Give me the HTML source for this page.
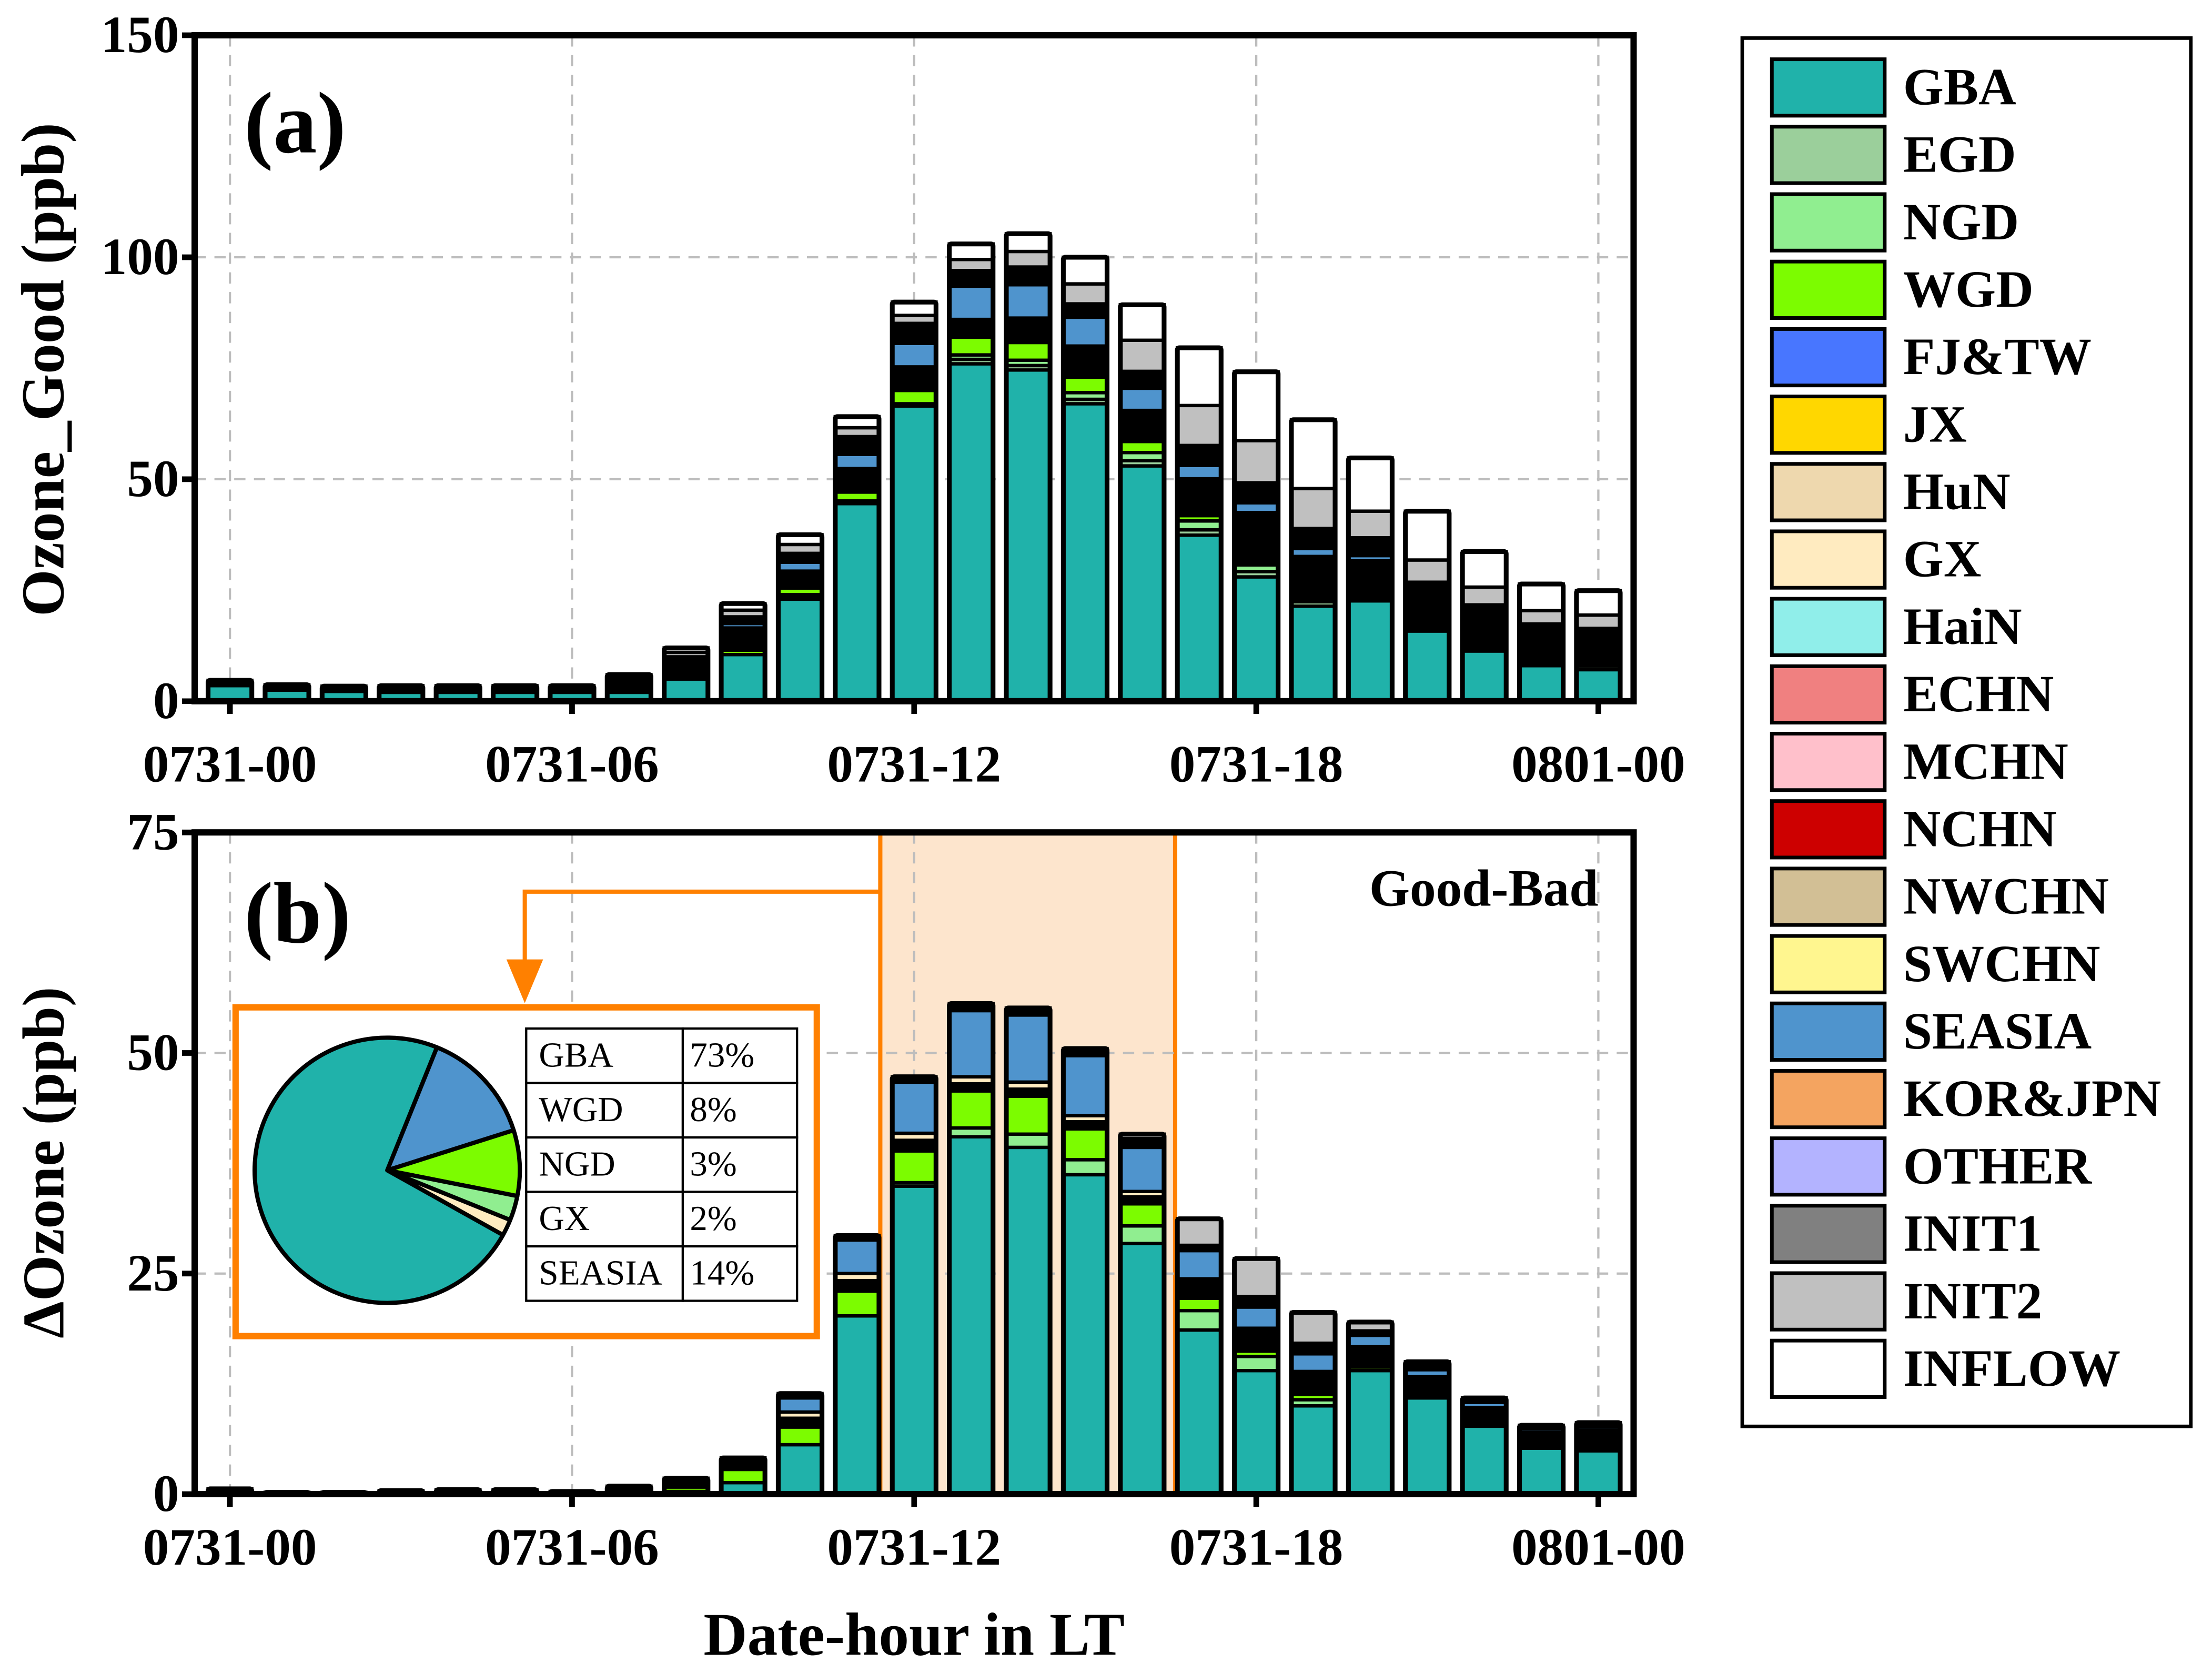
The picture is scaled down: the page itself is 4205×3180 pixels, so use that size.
<!DOCTYPE html>
<html><head><meta charset="utf-8"><style>
html,body{margin:0;padding:0;background:#fff;}
svg{display:block;}
text{font-family:"Liberation Serif",serif;}
</style></head><body>
<svg id="fig" xmlns="http://www.w3.org/2000/svg" width="4205" height="3180" viewBox="0 0 1568 1185.8" preserveAspectRatio="none">
<rect x="0" y="0" width="1568" height="1186" fill="#fff"/>
<g id="pa"></g>
<g id="pb"></g>
<g id="lg"></g>
</svg>
<script>
const hours = [0,1,2,3,4,5,6,7,8,9,10,11,12,13,14,15,16,17,18,19,20,21,22,23,24];
const xTickHours = [0,6,12,18,24];
const xTickLabels = ["0731-00","0731-06","0731-12","0731-18","0801-00"];
const yTicksA = [0,50,100,150];
const yTicksB = [0,25,50,75];

const GBA_a    = [3.5,2.5,2.2,2,2,2,2,2,5,10.5,23,44.5,66.5,76,74.6,67,53,37.4,28,21.4,22.6,15.8,11.3,8,7.1];
const EGD_a    = [0,0,0,0,0,0,0,0,0,0,0.5,0.3,0.2,1,1,1,1.2,1.2,1.2,1,0.5,0.4,0.2,0.4,0.8];
const NGD_a    = [0,0,0,0,0,0,0,0,0,0,0.5,0.3,0.3,1,1.2,1.5,1.8,2,1.5,0.6,0.3,0,0,0,0];
const WGD_a    = [0,0,0,0,0,0,0,0,0.5,1,1.5,2,3,4,4,3.5,2.5,1.2,0.5,0.3,0.2,0,0,0,0];
const MINOR1_a = [1.2,1.2,1.2,1.5,1.5,1.5,1.5,3.5,4.5,5,3.5,5,5,3.5,5,7,7,8,11,9,8,6.5,7,8.5,8];
const GX_a     = [0,0,0,0,0,0,0,0,0,0,0.3,0.3,0.3,0.5,0.5,0,0,0.3,0.3,0.3,0,0,0,0,0];
const SEASIA_a = [0,0,0,0,0,0,0,0,0,1,2,3.2,5.3,7.5,7.5,6.5,5,3,2.2,1.8,1.2,0.6,0.4,0,0];
const MINOR2_a = [0,0,0,0,0,0,0,0,0,1.5,2,4,4.5,3.5,4,3,3.8,4.5,4.5,4.5,4,3.5,2.8,0.5,0.5];
const INIT2_a  = [0,0,0,0,0,0,0,0,1,1.5,2,2,1.8,2.5,3.5,4.5,7,9,9.5,9,6,5,4,3,3];
const INFLOW_a = [0,0,0,0,0,0,0,0.5,1,1.5,2.2,2.5,3,3.5,4,6,8,13,15.5,15.5,12,11,8,6,5.5];

const GBA_b    = [0,0,0,0,0,0,0,0,0.3,1.3,5.6,20.2,34.9,40.5,39.3,36.2,28.4,18.6,14,10,14,10.9,7.7,5.2,4.9];
const NGD_b    = [0,0,0,0,0,0,0,0,0,0,0,0,0.4,1,1.5,1.7,2,2.2,1.6,0.7,0,0,0,0,0];
const WGD_b    = [0,0,0,0,0,0,0,0,0.5,1.5,2,2.8,3.6,4.2,4.3,3.5,2.5,1.4,0.6,0.6,0.4,0,0,0,0];
const MINOR1_b = [0.6,0.2,0.2,0.4,0.5,0.5,0.3,0.9,1,1,1,1.2,1.2,0.8,0.8,0.8,0.8,2.2,2.6,2.6,2.3,2.4,2.1,1.8,2.4];
const GX_b     = [0,0,0,0,0,0,0,0,0,0,0.7,0.8,0.8,0.8,0.8,0.7,0.6,0,0,0,0,0,0,0,0];
const SEASIA_b = [0,0,0,0,0,0,0,0,0,0.3,1.6,3.8,5.8,7.5,7.6,6.8,5,3.2,2.4,2,1.3,0.8,0.6,0.4,0.4];
const MINOR2_b = [0,0,0,0,0,0,0,0,0,0,0.5,0.5,0.6,0.8,0.8,0.8,1,0.6,1.2,1.2,0.5,0.9,0.5,0.4,0.4];
const INIT2_b  = [0,0,0,0,0,0,0,0,0,0,0,0,0,0,0,0,0.5,3,4.3,3.5,1,0,0,0,0];

const pieLabels = ["SEASIA","WGD","NGD","GX","GBA"];
const pieValues = [14,8,3,2,73];
const tableLabels = ["GBA","WGD","NGD","GX","SEASIA"];
const tableValues = ["73%","8%","3%","2%","14%"];

const legendLabels = ["GBA","EGD","NGD","WGD","FJ&TW","JX","HuN","GX","HaiN","ECHN","MCHN","NCHN","NWCHN","SWCHN","SEASIA","KOR&JPN","OTHER","INIT1","INIT2","INFLOW"];
const legendColors = ["#20b2aa","#9bcf9b","#90ee90","#7cfc00","#4876ff","#ffd700","#eed8ae","#ffebc0","#90eeea","#f08080","#ffc0cb","#cd0000","#d2bf95","#fff68f","#4f94cd","#f4a460","#b3b3ff","#808080","#c0c0c0","#ffffff"];

const NS="http://www.w3.org/2000/svg";
function mk(tag, attrs, parent){const e=document.createElementNS(NS,tag);for(const k in attrs)e.setAttribute(k,attrs[k]);parent.appendChild(e);return e;}

const X0=163, X1=1133, L=138, R=1158;
function xs(h){return X0+h*(X1-X0)/24;}
function yA(v){return 497 - v*(497-25)/150;}
function yB(v){return 1059 - v*(1059-590)/75;}

const pa=document.getElementById('pa'), pb=document.getElementById('pb'), lg=document.getElementById('lg');

function axes(g, ys, ticks, top, bottom){
  for(const h of xTickHours){
    const l=mk('line',{x1:xs(h),x2:xs(h),y1:top,y2:bottom,stroke:'#bdbdbd','stroke-width':1.6,'stroke-dasharray':'8,6'},g);
    
    
  }
  for(const t of ticks){
    if(t===ticks[0]||t===ticks[ticks.length-1])continue;
    const l=mk('line',{x1:L,x2:R,y1:ys(t),y2:ys(t),stroke:'#bdbdbd','stroke-width':1.6,'stroke-dasharray':'8,6'},g);
    
    
  }
}
function frame(g, ys, ticks, top, bottom, tickLabelY){
  const f=mk('rect',{x:L,y:top,width:R-L,height:bottom-top,fill:'none',stroke:'#000','stroke-width':4.5},g);
  
  
  xTickHours.forEach((h,i)=>{
    const t=mk('line',{x1:xs(h),x2:xs(h),y1:bottom,y2:bottom+9,stroke:'#000','stroke-width':4},g);
    
    
    const tx=mk('text',{x:xs(h),y:tickLabelY,'text-anchor':'middle','font-size':37,'font-weight':'bold'},g);
    tx.textContent=xTickLabels[i];
    
    
  });
  ticks.forEach(v=>{
    const t=mk('line',{x1:L-9,x2:L,y1:ys(v),y2:ys(v),stroke:'#000','stroke-width':4},g);
    
    
    const tx=mk('text',{x:127,y:ys(v)+12,'text-anchor':'end','font-size':37,'font-weight':'bold'},g);
    tx.textContent=String(v);
    
    
  });
}
function bars(g, ys, series, colors, names){
  hours.forEach((h,i)=>{
    const bg=mk('g',{},g);
    
    
    let cum=0; const w=31, x=xs(h)-w/2;
    series.forEach((s,k)=>{
      const v=s[i]; if(v<=0)return;
      const y1=ys(cum), y2=ys(cum+v);
      const r=mk('rect',{x:x,y:y2,width:w,height:Math.max(0.01,y1-y2),fill:colors[k],stroke:'#000','stroke-width':2.4},bg);
      
      
      cum+=v;
    });
    if(cum>0){
      const o=mk('rect',{x:x,y:ys(cum),width:w,height:ys(0)-ys(cum),fill:'none',stroke:'#000','stroke-width':3.4,rx:1.5},bg);
      
      
    }
  });
}

// Panel a
axes(pa,yA,yTicksA,25,497);
bars(pa,yA,[GBA_a,EGD_a,NGD_a,WGD_a,MINOR1_a,GX_a,SEASIA_a,MINOR2_a,INIT2_a,INFLOW_a],
  ["#20b2aa","#9bcf9b","#90ee90","#7cfc00","#000","#ffebc0","#4f94cd","#000","#c0c0c0","#fff"],
  ["gba","egd","ngd","wgd","minor-sources","gx","seasia","minor-sources","init2","inflow"]);
frame(pa,yA,yTicksA,25,497,554);
let t=mk('text',{x:173,y:108,'font-size':62,'font-weight':'bold'},pa);t.textContent='(a)';


t=mk('text',{x:0,y:0,'font-size':43,'font-weight':'bold','text-anchor':'middle',transform:'translate(45,262) rotate(-90)'},pa);t.textContent='Ozone_Good (ppb)';



// Panel b
let sh=mk('rect',{x:624,y:590,width:209,height:469,fill:'#fde5cd',stroke:'#ff8000','stroke-width':3},pb);


axes(pb,yB,yTicksB,590,1059);
bars(pb,yB,[GBA_b,NGD_b,WGD_b,MINOR1_b,GX_b,SEASIA_b,MINOR2_b,INIT2_b],
  ["#20b2aa","#90ee90","#7cfc00","#000","#ffebc0","#4f94cd","#000","#c0c0c0"],
  ["gba","ngd","wgd","minor-sources","gx","seasia","minor-sources","init2"]);
frame(pb,yB,yTicksB,590,1059,1109);
t=mk('text',{x:173,y:668,'font-size':62,'font-weight':'bold'},pb);t.textContent='(b)';


t=mk('text',{x:1133,y:642,'font-size':37,'font-weight':'bold','text-anchor':'end'},pb);t.textContent='Good-Bad';


t=mk('text',{x:0,y:0,'font-size':42,'font-weight':'bold','text-anchor':'middle',transform:'translate(45,824) rotate(-90)'},pb);t.textContent='ΔOzone (ppb)';


t=mk('text',{x:648,y:1173,'font-size':43,'font-weight':'bold','text-anchor':'middle'},pb);t.textContent='Date-hour in LT';



let ar=mk('polyline',{points:'624,632 372,632 372,690',fill:'none',stroke:'#ff8000','stroke-width':3},pb);


ar=mk('polygon',{points:'359,680 385,680 372,711',fill:'#ff8000'},pb);



const ins=mk('g',{},pb);


let ib=mk('rect',{x:167,y:714,width:412,height:233,fill:'#fff',stroke:'#ff8000','stroke-width':4.5},ins);


const pieColors={"SEASIA":"#4f94cd","WGD":"#7cfc00","NGD":"#90ee90","GX":"#ffebc0","GBA":"#20b2aa"};
const cx=274.5, cy=829.5, pr=94;
let ang=68*Math.PI/180; const tot=pieValues.reduce((a,b)=>a+b,0);
pieValues.forEach((v,i)=>{
  const a2=ang - v/tot*2*Math.PI;
  const x1=cx+pr*Math.cos(ang), y1=cy-pr*Math.sin(ang), x2=cx+pr*Math.cos(a2), y2=cy-pr*Math.sin(a2);
  const large=(v/tot>0.5)?1:0;
  const p=mk('path',{d:`M${cx},${cy} L${x1},${y1} A${pr},${pr} 0 ${large} 1 ${x2},${y2} Z`,fill:pieColors[pieLabels[i]],stroke:'#000','stroke-width':3,'stroke-linejoin':'round'},ins);
  
  
  ang=a2;
});
const tx0=373, tx1=484, tx2=565, ty0=729, rh=38.6;
tableLabels.forEach((lab,i)=>{
  const y=ty0+i*rh;
  let c=mk('rect',{x:tx0,y:y,width:tx1-tx0,height:rh,fill:'#fff',stroke:'#000','stroke-width':1.6},ins);
  
  
  c=mk('rect',{x:tx1,y:y,width:tx2-tx1,height:rh,fill:'#fff',stroke:'#000','stroke-width':1.6},ins);
  
  
  let tt=mk('text',{x:tx0+9,y:y+27,'font-size':25},ins);tt.textContent=lab;
  
  
  tt=mk('text',{x:tx1+5,y:y+27,'font-size':25},ins);tt.textContent=tableValues[i];
  
  
});

let lb=mk('rect',{x:1235,y:27,width:318,height:984,fill:'#fff',stroke:'#000','stroke-width':2.5},lg);


legendLabels.forEach((lab,i)=>{
  const cyl=62+i*47.8;
  const ge=mk('g',{},lg);
  
  
  const p=mk('rect',{x:1256,y:cyl-20,width:80,height:40,fill:legendColors[i],stroke:'#000','stroke-width':2.6},ge);
  
  
  const tt=mk('text',{x:1349,y:cyl+12,'font-size':37,'font-weight':'bold'},ge);tt.textContent=lab;
  
  
});
</script>
</body></html>
